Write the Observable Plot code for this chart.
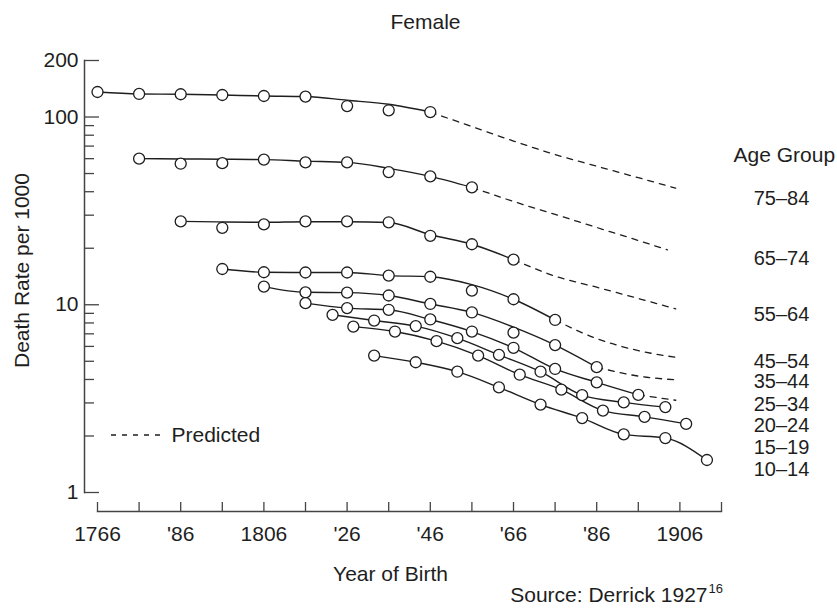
<!DOCTYPE html>
<html>
<head>
<meta charset="utf-8">
<script src="https://cdn.jsdelivr.net/npm/d3@7"></script>
<script src="https://cdn.jsdelivr.net/npm/@observablehq/plot@0.6"></script>
<style>
  html, body { margin: 0; padding: 0; background: #fff; }
  #chart { width: 837px; height: 608px; }
</style>
</head>
<body>
<div id="chart"></div>
<script>
// ---- Data ----
const ageGroups  = ["75–84", "65–74", "55–64", "45–54", "35–44", "25–34", "20–24", "15–19", "10–14"];
const startYears = [1766, 1776, 1786, 1796, 1806, 1816, 1822.5, 1827.5, 1832.5]; // first cohort, then every 10 years

// observed death rates per 1000 (circles)
const obs_75_84 = [135.9, 132.7, 132.2, 131.0, 129.4, 128.5, 114.4, 108.6, 106.3];
const obs_65_74 = [60.0, 56.4, 56.8, 59.3, 57.3, 57.3, 50.9, 48.3, 42.2];
const obs_55_64 = [27.8, 25.7, 26.8, 27.8, 27.8, 27.5, 23.3, 21.0, 17.4];
const obs_45_54 = [15.5, 14.9, 14.85, 14.85, 14.3, 14.1, 11.9, 10.7, 8.3];
const obs_35_44 = [12.5, 11.65, 11.6, 11.2, 10.1, 9.1, 7.1, 6.1, 4.65];
const obs_25_34 = [10.2, 9.6, 9.4, 8.35, 7.2, 5.9, 4.55, 3.86, 3.31];
const obs_20_24 = [8.84, 8.24, 7.70, 6.64, 5.41, 4.40, 3.30, 3.02, 2.85];
const obs_15_19 = [7.65, 7.20, 6.40, 5.36, 4.24, 3.53, 2.73, 2.53, 2.32];
const obs_10_14 = [5.36, 4.94, 4.40, 3.63, 2.94, 2.49, 2.04, 1.95, 1.49];

// smoothed (fitted) solid curves
const fit_75_84 = [135.9, 132.7, 132.2, 131.0, 129.4, 128.5, 122.8, 116.9, 106.3];
const fit_65_74 = [60.0, 59.8, 59.6, 59.3, 58.2, 57.3, 53.3, 48.3, 42.2];
const fit_55_64 = [27.8, 27.6, 27.5, 27.7, 27.7, 27.4, 23.6, 21.0, 17.4];
const fit_45_54 = [15.5, 14.9, 14.85, 14.85, 14.3, 14.1, 12.8, 10.7, 8.3];
const fit_35_44 = [12.5, 11.65, 11.6, 11.2, 10.1, 9.1, 7.6, 6.1, 4.65];
const fit_25_34 = obs_25_34;
const fit_20_24 = obs_20_24;
const fit_15_19 = obs_15_19;
const fit_10_14 = obs_10_14;

// predicted (dashed) continuations
const pred_75_84_years = [1846, 1856, 1866, 1876, 1886, 1896, 1905];
const pred_75_84 = [106.3, 88.9, 74.5, 63.1, 54.7, 47.5, 41.8];
const pred_65_74_years = [1856, 1866, 1876, 1886, 1896, 1903];
const pred_65_74 = [42.2, 35.5, 30.3, 25.8, 22.0, 19.6];
const pred_55_64_years = [1866, 1876, 1886, 1896, 1905];
const pred_55_64 = [17.4, 14.2, 12.4, 10.8, 9.5];
const pred_45_54_years = [1876, 1886, 1896, 1905];
const pred_45_54 = [8.3, 6.6, 5.7, 5.25];
const pred_35_44_years = [1886, 1896, 1905];
const pred_35_44 = [4.65, 4.17, 3.98];
const pred_25_34_years = [1896, 1905];
const pred_25_34 = [3.31, 3.10];

// axis ticks
const yMajorTicks = [1, 10, 100, 200];
const yMinorTicks = [2, 3, 4, 5, 6, 7, 8, 9, 20, 30, 40, 50, 60, 70, 80, 90];
const xTicks = [1766, 1776, 1786, 1796, 1806, 1816, 1826, 1836, 1846, 1856, 1866, 1876, 1886, 1896, 1906, 1916];
const xLabelYears = [1766, 1786, 1806, 1826, 1846, 1866, 1886, 1906];
const xLabels = ["1766", "'86", "1806", "'26", "'46", "'66", "'86", "1906"];

// label anchors for the age-group labels (in rate units, right margin)
const labelAt = [36.8, 17.6, 8.87, 5.0, 3.88, 2.94, 2.27, 1.74, 1.33];

// ---- Build tables ----
const obsSeries = [obs_75_84, obs_65_74, obs_55_64, obs_45_54, obs_35_44, obs_25_34, obs_20_24, obs_15_19, obs_10_14];
const fitSeries = [fit_75_84, fit_65_74, fit_55_64, fit_45_54, fit_35_44, fit_25_34, fit_20_24, fit_15_19, fit_10_14];
const predSeries = [
  [pred_75_84_years, pred_75_84], [pred_65_74_years, pred_65_74], [pred_55_64_years, pred_55_64],
  [pred_45_54_years, pred_45_54], [pred_35_44_years, pred_35_44], [pred_25_34_years, pred_25_34]
];

const points = ageGroups.flatMap((g, i) => obsSeries[i].map((v, j) => ({group: g, year: startYears[i] + 10 * j, rate: v})));
const fits = ageGroups.flatMap((g, i) => fitSeries[i].map((v, j) => ({group: g, year: startYears[i] + 10 * j, rate: v})));
const preds = predSeries.flatMap(([yrs, vals], i) => vals.map((v, j) => ({group: ageGroups[i], year: yrs[j], rate: v})));
const labels = ageGroups.map((g, i) => ({group: g, rate: labelAt[i]}));

const ink = "#1e1e1e";
const font = "'Liberation Sans', Arial, Helvetica, sans-serif";
const fs = 21;

const plot = Plot.plot({
  width: 837,
  height: 608,
  marginLeft: 97,
  marginRight: 116,
  marginTop: 60,
  marginBottom: 116,
  x: {domain: [1766, 1916]},
  y: {type: "log", domain: [1, 200]},
  style: {fontFamily: font, fontSize: fs + "px", color: ink, background: "#fff", overflow: "visible"},
  marks: [
    // axis lines (detached)
    Plot.frame({anchor: "left", dx: -13, stroke: "#444", strokeWidth: 1.5}),
    Plot.frame({anchor: "bottom", dy: 19, stroke: "#444", strokeWidth: 1.5}),
    // y ticks
    Plot.axisY({ticks: yMajorTicks, tickSize: -15, text: null, dx: -13, label: null, stroke: "#444", strokeWidth: 1.3}),
    Plot.axisY({ticks: yMinorTicks, tickSize: -10, text: null, dx: -13, label: null, stroke: "#444", strokeWidth: 1.3}),
    Plot.axisY({ticks: yMajorTicks, tickSize: 0, tickPadding: 6, dx: -13, label: null, tickFormat: d => String(d), fontSize: fs, fill: ink}),
    // x ticks
    Plot.axisX({ticks: xTicks, tickSize: -9, text: null, dy: 19, label: null, stroke: "#444", strokeWidth: 1.3}),
    Plot.axisX({ticks: xLabelYears, tickSize: 0, tickPadding: 0, dy: 34, lineAnchor: "top", label: null,
                tickFormat: d => xLabels[xLabelYears.indexOf(d)], fontSize: fs, fill: ink}),
    // fitted solid curves
    Plot.line(fits, {x: "year", y: "rate", z: "group", curve: "monotone-x", stroke: ink, strokeWidth: 1.4}),
    // predicted dashed curves
    Plot.line(preds, {x: "year", y: "rate", z: "group", curve: "monotone-x", stroke: ink, strokeWidth: 1.3, strokeDasharray: "6,6"}),
    // observed circles
    Plot.dot(points, {x: "year", y: "rate", r: 5.5, fill: "white", stroke: ink, strokeWidth: 1.3}),
    // age-group labels
    Plot.text(["Age Group"], {y: [62.4], frameAnchor: "right", dx: 12, textAnchor: "start", lineAnchor: "middle", fontSize: fs, fill: ink}),
    Plot.text(labels, {y: "rate", text: "group", frameAnchor: "right", dx: 60, textAnchor: "middle", lineAnchor: "middle", fontSize: 20, fill: ink}),
    // titles & captions
    Plot.text(["Female"], {frameAnchor: "top", textAnchor: "middle", lineAnchor: "middle", dx: 16, dy: -38, fontSize: fs, fill: ink}),
    Plot.text(["Year of Birth"], {frameAnchor: "bottom", textAnchor: "middle", lineAnchor: "middle", dx: -19, dy: 82, fontSize: fs, fill: ink}),
    Plot.text(["Death Rate per 1000"], {frameAnchor: "left", textAnchor: "middle", lineAnchor: "middle", rotate: -90, dx: -75, dy: -6, fontSize: fs, fill: ink}),
    Plot.text(["Source: Derrick 1927"], {frameAnchor: "bottom-right", textAnchor: "end", lineAnchor: "middle", dx: -14, dy: 103, fontSize: fs, fill: ink}),
    Plot.text(["16"], {frameAnchor: "bottom-right", textAnchor: "start", lineAnchor: "middle", dx: -13, dy: 96, fontSize: 13, fill: ink}),
    Plot.text(["Predicted"], {frameAnchor: "left", textAnchor: "start", lineAnchor: "middle", dx: 74, dy: 159, fontSize: fs, fill: ink})
  ]
});

document.getElementById("chart").appendChild(plot);

// legend sample of the dashed "Predicted" line
d3.select(plot).append("line")
  .attr("x1", 111).attr("x2", 161).attr("y1", 435).attr("y2", 435)
  .attr("stroke", ink).attr("stroke-width", 1.3).attr("stroke-dasharray", "5,6");
</script>
</body>
</html>
